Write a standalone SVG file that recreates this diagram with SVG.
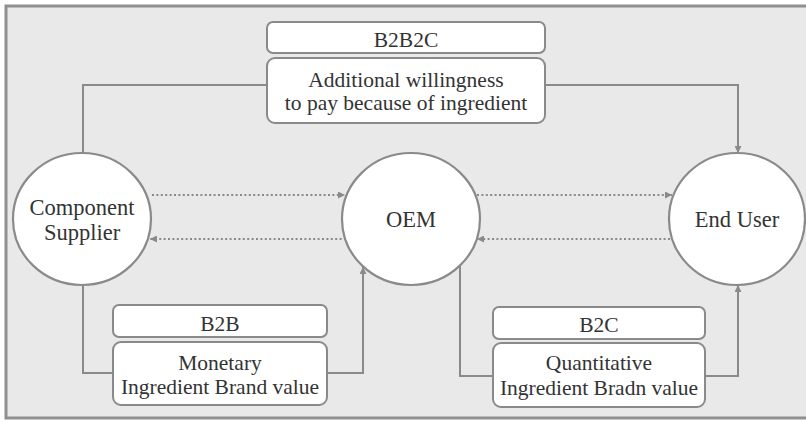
<svg xmlns="http://www.w3.org/2000/svg" width="806" height="422" viewBox="0 0 806 422">
  <style>
    .frame { fill: #e9e9ea; stroke: #8f8f8f; stroke-width: 3; }
    .box { fill: #ffffff; stroke: #8a8a8a; stroke-width: 2; }
    .node { fill: #ffffff; stroke: #8a8a8a; stroke-width: 2.2; }
    text { font-family: 'Liberation Serif', 'DejaVu Serif', serif; font-size: 21.5px; fill: #333333; text-anchor: middle; }
    .big { font-size: 22.5px; }
    .conn { fill: none; stroke: #8a8a8a; stroke-width: 2; }
    .dot { fill: none; stroke: #8a8a8a; stroke-width: 2; stroke-dasharray: 2 2.4; }
  </style>
  <defs>
    <marker id="arr" viewBox="0 0 10 10" refX="10" refY="5" markerWidth="7" markerHeight="7" markerUnits="userSpaceOnUse" orient="auto">
      <path d="M0,0 L10,5 L0,10 z" fill="#8a8a8a"/>
    </marker>
  </defs>

  <rect class="frame" x="6" y="6" width="812" height="412"/>

  <g id="connectors">
    <path class="conn" d="M83,153 V85 H267"/>
    <path class="conn" d="M545,85 H738 V153" marker-end="url(#arr)"/>
    <path class="conn" d="M83,285 V373 H113"/>
    <path class="conn" d="M327,373 H363 V267" marker-end="url(#arr)"/>
    <path class="conn" d="M460,266 V376 H493"/>
    <path class="conn" d="M705,376 H738 V285" marker-end="url(#arr)"/>
    <path class="dot" d="M152,195 H345" marker-end="url(#arr)"/>
    <path class="dot" d="M346,239 H150" marker-end="url(#arr)"/>
    <path class="dot" d="M477,195 H672" marker-end="url(#arr)"/>
    <path class="dot" d="M670,239 H477" marker-end="url(#arr)"/>
  </g>

  <g id="component-supplier">
    <ellipse class="node" cx="82" cy="219" rx="69" ry="66"/>
    <text class="big" x="82" y="215" font-family="Liberation Serif, DejaVu Serif, serif">Component</text>
    <text class="big" x="82" y="240" font-family="Liberation Serif, DejaVu Serif, serif">Supplier</text>
  </g>

  <g id="oem">
    <ellipse class="node" cx="411" cy="219" rx="69" ry="66"/>
    <text class="big" x="411" y="227" font-family="Liberation Serif, DejaVu Serif, serif">OEM</text>
  </g>

  <g id="end-user">
    <ellipse class="node" cx="737" cy="219" rx="68" ry="66"/>
    <text class="big" x="737" y="227" font-family="Liberation Serif, DejaVu Serif, serif">End User</text>
  </g>

  <g id="b2b2c">
    <rect class="box" x="267" y="22" width="278" height="31" rx="6"/>
    <text x="406" y="47" font-family="Liberation Serif, DejaVu Serif, serif">B2B2C</text>
  </g>

  <g id="willingness">
    <rect class="box" x="267" y="58" width="278" height="65" rx="8"/>
    <text x="406" y="87" font-family="Liberation Serif, DejaVu Serif, serif">Additional willingness</text>
    <text x="406" y="110" font-family="Liberation Serif, DejaVu Serif, serif">to pay because of ingredient</text>
  </g>

  <g id="b2b">
    <rect class="box" x="113" y="305" width="214" height="32" rx="6"/>
    <text x="220" y="331" font-family="Liberation Serif, DejaVu Serif, serif">B2B</text>
  </g>

  <g id="monetary">
    <rect class="box" x="113" y="342" width="214" height="63" rx="8"/>
    <text x="220" y="370" font-family="Liberation Serif, DejaVu Serif, serif">Monetary</text>
    <text x="220" y="394" font-family="Liberation Serif, DejaVu Serif, serif">Ingredient Brand value</text>
  </g>

  <g id="b2c">
    <rect class="box" x="493" y="307" width="212" height="32" rx="6"/>
    <text x="599" y="332" font-family="Liberation Serif, DejaVu Serif, serif">B2C</text>
  </g>

  <g id="quantitative">
    <rect class="box" x="493" y="343" width="212" height="64" rx="8"/>
    <text x="599" y="370" font-family="Liberation Serif, DejaVu Serif, serif">Quantitative</text>
    <text x="599" y="395" font-family="Liberation Serif, DejaVu Serif, serif">Ingredient Bradn value</text>
  </g>
</svg>
